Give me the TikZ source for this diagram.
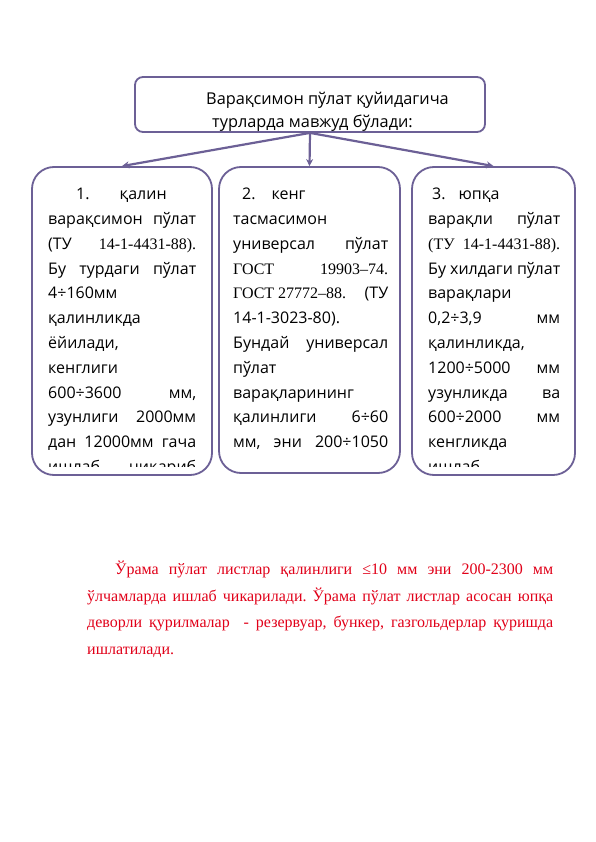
\documentclass[tikz,border=0pt]{standalone}
\usepackage{fontspec}
\setmainfont{Open Sans}
\newfontfamily\tms{Liberation Serif}
\usetikzlibrary{arrows.meta}
\definecolor{frame}{RGB}{108,96,150}
\definecolor{redtxt}{RGB}{225,0,25}
\newcommand\jl[2]{\hbox to #1{#2}}
\tikzset{
  boxstyle/.style={draw=frame, line width=1.8pt, rounded corners=22pt, fill=white, inner sep=0pt},
  topbox/.style={draw=frame, line width=1.8pt, rounded corners=8pt, fill=white, inner sep=0pt},
  conn/.style={draw=frame, line width=2.2pt, -{Stealth[length=7pt,width=7pt]}},
  bodytext/.style={anchor=north west, inner sep=0pt, align=left, font=\fontsize{16}{24.8}\selectfont},
  headtext/.style={anchor=north west, inner sep=0pt, align=left, font=\fontsize{16.3}{23}\selectfont},
  redpara/.style={anchor=north west, inner sep=0pt, align=left, text=redtxt, font=\tms\fontsize{16}{26.5}\selectfont},
}
\begin{document}
\begin{tikzpicture}[x=1pt,y=-1pt]
\useasboundingbox[fill=white] (0,0) rectangle (596,842);

% header box
\node[topbox, minimum width=350pt, minimum height=55pt] (top) at (310,104.5) {};
\node[headtext] (toptext) at (206,92) {\rule{0pt}{11pt}Варақсимон пўлат қуйидагича\\\hspace*{6pt}турларда мавжуд бўлади:};

% three boxes
\node[boxstyle, minimum width=180pt, minimum height=308pt] (b1) at (122,321) {};
\node[boxstyle, minimum width=181pt, minimum height=306pt] (b2) at (309.5,320) {};
\node[boxstyle, minimum width=163pt, minimum height=308pt] (b3) at (493.5,321) {};

\draw[conn] (top.south) -- (b1.north);
\draw[conn] (top.south) -- (b2.north);
\draw[conn] (top.south) -- (b3.north);

% box 1 text
\begin{scope}
\clip (34,170) rectangle (210,466);
\node[bodytext] (t1) at (48,188) {%
\jl{148pt}{\rule{0pt}{10pt}\hspace*{28pt}1.\hspace*{30pt}қалин\hfill}\\
\jl{148pt}{варақсимон\hfill пўлат}\\
\jl{148pt}{(ТУ\hfill {\tms 14-1-4431-88).}}\\
\jl{148pt}{Бу\hfill турдаги\hfill пўлат}\\
\jl{148pt}{4÷160мм\hfill}\\
\jl{148pt}{қалинликда\hfill}\\
\jl{148pt}{ёйилади,\hfill}\\
\jl{148pt}{кенглиги\hfill}\\
\jl{148pt}{600÷3600\hfill мм,}\\
\jl{148pt}{узунлиги\hfill 2000мм}\\
\jl{148pt}{дан\hfill 12000мм\hfill гача}\\
\jl{148pt}{ишлаб\hfill чиқариб}};
\end{scope}

% box 2 text
\begin{scope}
\clip (221,170) rectangle (398,462);
\node[bodytext] (t2) at (233,188) {%
\jl{155pt}{\rule{0pt}{10pt}\hspace*{9pt}2.\hspace*{16pt}кенг\hfill}\\
\jl{155pt}{тасмасимон\hfill}\\
\jl{155pt}{универсал\hfill пўлат}\\
\jl{155pt}{{\tms ГОСТ}\hfill {\tms 19903–74.}}\\
\jl{155pt}{{\tms ГОСТ 27772–88.}\hfill (ТУ}\\
\jl{155pt}{14-1-3023-80).\hfill}\\
\jl{155pt}{Бундай\hfill универсал}\\
\jl{155pt}{пўлат\hfill}\\
\jl{155pt}{варақларининг\hfill}\\
\jl{155pt}{қалинлиги\hfill 6÷60}\\
\jl{155pt}{мм,\hfill эни\hfill 200÷1050}\\
\jl{155pt}{мм,\hfill ва\hfill узунлиги}};
\end{scope}

% box 3 text
\begin{scope}
\clip (414,170) rectangle (573,466);
\node[bodytext] (t3) at (428,188) {%
\jl{132pt}{\rule{0pt}{10pt}\hspace*{4pt}3.\hspace*{13pt}юпқа\hfill}\\
\jl{132pt}{варақли\hfill пўлат}\\
\jl{132pt}{{\tms (ТУ}\hfill {\tms 14-1-4431-88).}}\\
\jl{132pt}{Бу\hfill хилдаги\hfill пўлат}\\
\jl{132pt}{варақлари\hfill}\\
\jl{132pt}{0,2÷3,9\hfill мм}\\
\jl{132pt}{қалинликда,\hfill}\\
\jl{132pt}{1200÷5000\hfill мм}\\
\jl{132pt}{узунликда\hfill ва}\\
\jl{132pt}{600÷2000\hfill мм}\\
\jl{132pt}{кенгликда\hfill}\\
\jl{132pt}{ишлаб\hfill}};
\end{scope}

% red paragraph
\node[redpara] (para) at (87,561) {%
\jl{466pt}{\rule{0pt}{10pt}\hspace*{28pt}Ўрама\hfill пўлат\hfill листлар\hfill қалинлиги\hfill ≤10\hfill мм\hfill эни\hfill 200-2300\hfill мм}\\
\jl{466pt}{ўлчамларда\hfill ишлаб\hfill чикарилади.\hfill Ўрама\hfill пўлат\hfill листлар\hfill асосан\hfill юпқа}\\
\jl{466pt}{деворли\hfill қурилмалар\hfill\hfill -\hfill резервуар,\hfill бункер,\hfill газгольдерлар\hfill қуришда}\\
\jl{466pt}{ишлатилади.\hfill}};
\end{tikzpicture}
\end{document}
